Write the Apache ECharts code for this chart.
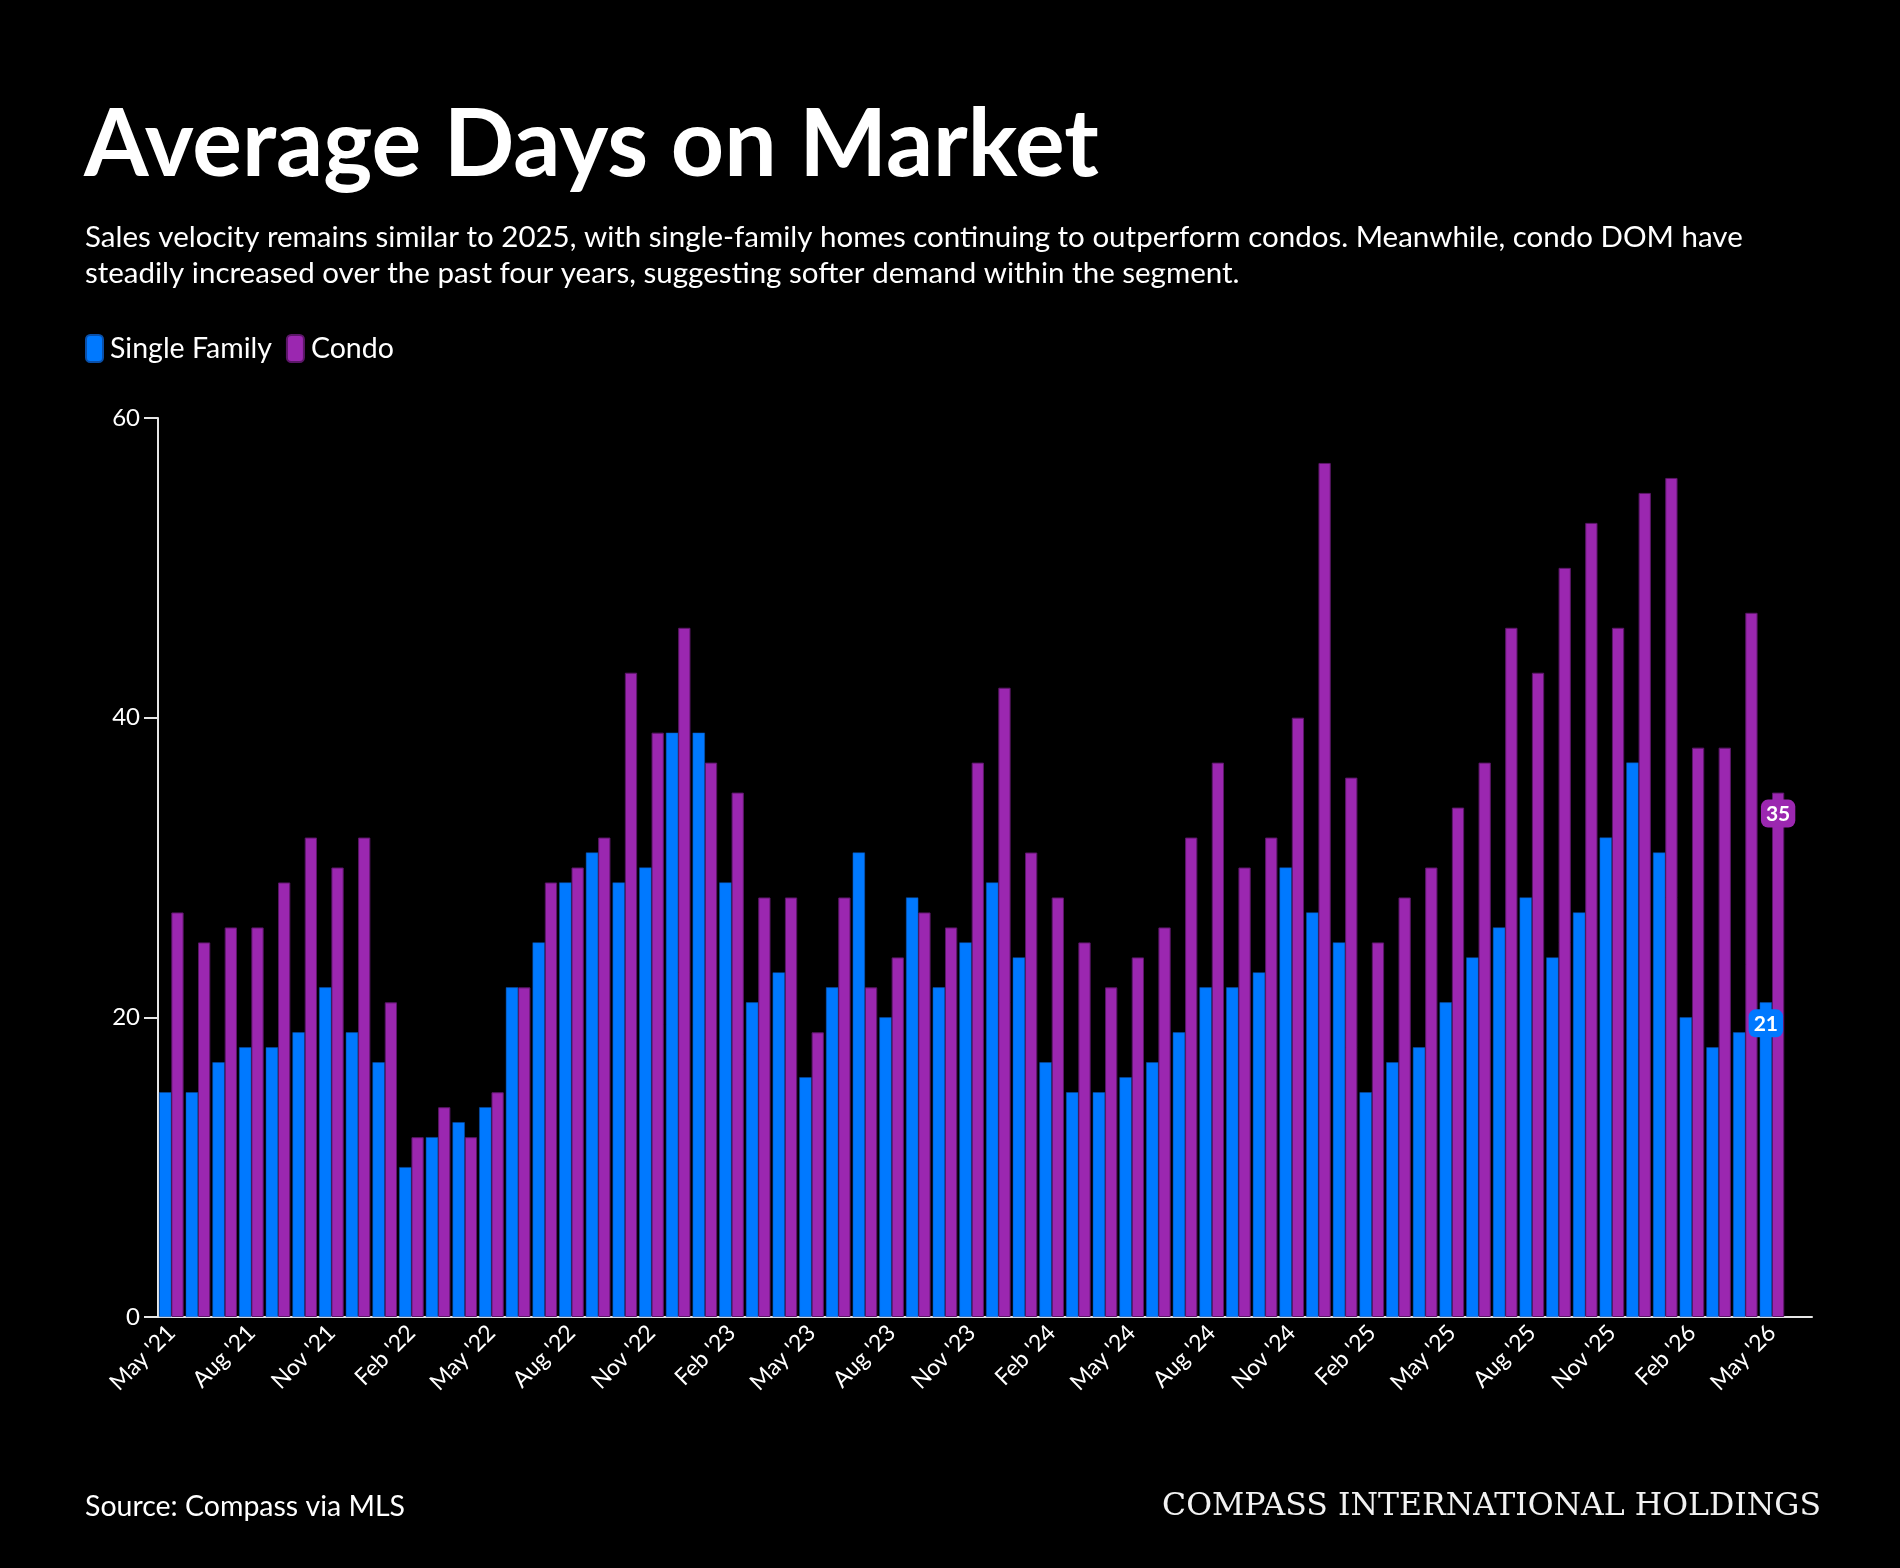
<!DOCTYPE html>
<html>
<head>
<meta charset="utf-8">
<title>Average Days on Market</title>
<script src="https://cdn.jsdelivr.net/npm/echarts@6/dist/echarts.min.js"></script>
<style>
  html, body { margin: 0; padding: 0; background: #000; }
  #main { width: 1900px; height: 1568px; }
</style>
</head>
<body>
<div id="main"></div>
<script>
// month labels, May '21 .. May '26
var months = [
  "May '21", "Jun '21", "Jul '21", "Aug '21", "Sep '21", "Oct '21", "Nov '21", "Dec '21",
  "Jan '22", "Feb '22", "Mar '22", "Apr '22", "May '22", "Jun '22", "Jul '22", "Aug '22", "Sep '22", "Oct '22", "Nov '22", "Dec '22",
  "Jan '23", "Feb '23", "Mar '23", "Apr '23", "May '23", "Jun '23", "Jul '23", "Aug '23", "Sep '23", "Oct '23", "Nov '23", "Dec '23",
  "Jan '24", "Feb '24", "Mar '24", "Apr '24", "May '24", "Jun '24", "Jul '24", "Aug '24", "Sep '24", "Oct '24", "Nov '24", "Dec '24",
  "Jan '25", "Feb '25", "Mar '25", "Apr '25", "May '25", "Jun '25", "Jul '25", "Aug '25", "Sep '25", "Oct '25", "Nov '25", "Dec '25",
  "Jan '26", "Feb '26", "Mar '26", "Apr '26", "May '26"
];

var singleFamily = [
  15, 15, 17, 18, 18, 19, 22, 19,
  17, 10, 12, 13, 14, 22, 25, 29, 31, 29, 30, 39,
  39, 29, 21, 23, 16, 22, 31, 20, 28, 22, 25, 29,
  24, 17, 15, 15, 16, 17, 19, 22, 22, 23, 30, 27,
  25, 15, 17, 18, 21, 24, 26, 28, 24, 27, 32, 37,
  31, 20, 18, 19, 21
];

var condo = [
  27, 25, 26, 26, 29, 32, 30, 32,
  21, 12, 14, 12, 15, 22, 29, 30, 32, 43, 39, 46,
  37, 35, 28, 28, 19, 28, 22, 24, 27, 26, 37, 42,
  31, 28, 25, 22, 24, 26, 32, 37, 30, 32, 40, 57,
  36, 25, 28, 30, 34, 37, 46, 43, 50, 53, 46, 55,
  56, 38, 38, 47, 35
];

var yTicks = [0, 20, 40, 60];

var blue = '#0079ff';
var purple = '#9b27b0';
var fontSans = 'Lato';

window.addEventListener('load', function () {
  var chart = echarts.init(document.getElementById('main'));
  var last = months.length - 1;

  // only the latest month carries a value badge
  function withEndLabel(arr, color) {
    return arr.map(function (v, i) {
      if (i !== last) return v;
      return {
        value: v,
        label: {
          show: true,
          position: 'insideTop',
          distance: 7,
          formatter: '{c}',
          color: '#fff',
          fontFamily: fontSans,
          fontWeight: 'bold',
          fontSize: 21,
          backgroundColor: color,
          padding: [4, 5, 3, 5],
          borderRadius: 7
        }
      };
    });
  }

  var option = {
    backgroundColor: '#000',
    animation: false,
    title: [
      {
        text: 'Average Days on Market',
        left: 84,
        top: 99,
        padding: 0,
        textStyle: { color: '#fff', fontFamily: fontSans, fontWeight: 'bold', fontSize: 93 }
      },
      {
        text: 'Sales velocity remains similar to 2025, with single-family homes continuing to outperform condos. Meanwhile, condo DOM have\nsteadily increased over the past four years, suggesting softer demand within the segment.',
        left: 85,
        top: 219,
        padding: 0,
        textStyle: { color: '#fff', fontFamily: fontSans, fontWeight: 'normal', fontSize: 29.5, lineHeight: 36 }
      },
      {
        text: 'Source: Compass via MLS',
        left: 85,
        top: 1492,
        padding: 0,
        textStyle: { color: '#fff', fontFamily: fontSans, fontWeight: 'normal', fontSize: 28.5 }
      },
      {
        text: 'COMPASS INTERNATIONAL HOLDINGS',
        right: 79,
        top: 1491,
        padding: 0,
        textStyle: { color: '#f2f2f2', fontFamily: 'DejaVu Serif', fontWeight: 'normal', fontSize: 31.5 }
      }
    ],
    legend: {
      left: 85,
      top: 334,
      padding: 0,
      icon: 'roundRect',
      itemWidth: 17,
      itemHeight: 27,
      itemGap: 14,
      textStyle: { color: '#fff', fontFamily: fontSans, fontSize: 28.5, padding: [0, 0, 0, 2] },
      data: ['Single Family', 'Condo']
    },
    grid: {
      left: 158,
      right: 88,
      top: 418,
      bottom: 251,
      containLabel: false
    },
    xAxis: {
      type: 'category',
      data: months.concat(['']),
      axisLine: { lineStyle: { color: '#e6e6e6', width: 2 } },
      axisTick: {
        alignWithLabel: true,
        length: 12,
        lineStyle: { color: '#cfcfcf', width: 2 },
        interval: function (i) { return i <= last; }
      },
      axisLabel: {
        interval: 2,
        rotate: 45,
        margin: 12,
        color: '#fff',
        fontFamily: fontSans,
        fontSize: 23
      }
    },
    yAxis: {
      type: 'value',
      min: yTicks[0],
      max: yTicks[yTicks.length - 1],
      interval: yTicks[1] - yTicks[0],
      splitLine: { show: false },
      axisLine: { show: true, lineStyle: { color: '#e6e6e6', width: 2 } },
      axisTick: { show: true, length: 14, lineStyle: { color: '#e6e6e6', width: 2 } },
      axisLabel: { color: '#fff', fontFamily: fontSans, fontSize: 24, margin: 18 }
    },
    series: [
      {
        name: 'Single Family',
        type: 'bar',
        barGap: '0%',
        barCategoryGap: '8%',
        itemStyle: { color: blue, borderColor: '#0a4fa8', borderWidth: 0.5 },
        data: withEndLabel(singleFamily, blue)
      },
      {
        name: 'Condo',
        type: 'bar',
        barGap: '0%',
        barCategoryGap: '8%',
        itemStyle: { color: purple, borderColor: '#5b1768', borderWidth: 1 },
        data: withEndLabel(condo, purple)
      }
    ]
  };
  chart.setOption(option);
});
</script>
</body>
</html>
